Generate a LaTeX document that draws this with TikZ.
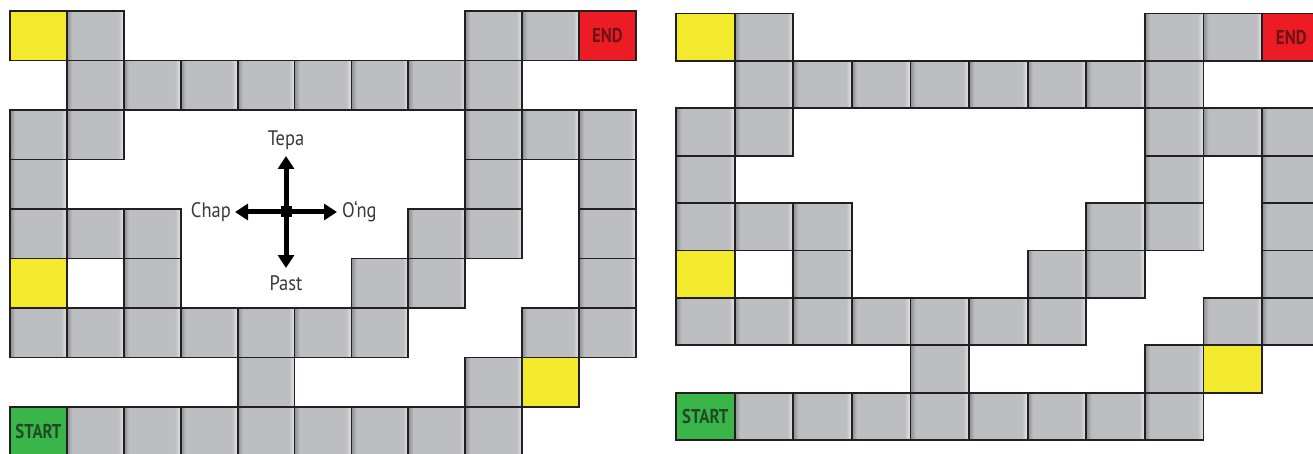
\documentclass[tikz,border=0pt]{standalone}
\usepackage{fontspec}
\setmainfont{PT Sans}
\newfontfamily\labfont{PT Sans}[FakeStretch=0.88]
\newfontfamily\cellfont{PT Sans Bold}[FakeStretch=0.84]
\usetikzlibrary{arrows.meta}
\definecolor{cellgray}{HTML}{BDBEC1}
\definecolor{celldark}{HTML}{8C8D90}
\definecolor{celllight}{HTML}{DDDEE0}
\definecolor{cellyellow}{HTML}{F3EA2E}
\definecolor{cellred}{HTML}{ED1C24}
\definecolor{cellgreen}{HTML}{3AB54A}
\definecolor{endtext}{HTML}{6B1416}
\definecolor{starttext}{HTML}{1F4A25}
\definecolor{edge}{HTML}{231F20}
\definecolor{labtext}{HTML}{3A3A3A}
\pgfdeclarehorizontalshading{cellshade}{100bp}{color(0bp)=(celldark); color(25bp)=(celldark); color(29.5bp)=(cellgray); color(70bp)=(cellgray); color(74bp)=(celllight); color(75bp)=(celllight); color(100bp)=(celllight)}
\tikzset{
  cellbase/.style={draw=edge, line width=1.8pt, inner sep=0pt, anchor=north west, outer sep=0pt},
  graycell/.style={cellbase, shading=cellshade},
  yellowcell/.style={cellbase, fill=cellyellow},
  whitecell/.style={cellbase, fill=white},
  redcell/.style={cellbase, fill=cellred, text=endtext, font=\cellfont\fontsize{20}{22}\selectfont},
  greencell/.style={cellbase, fill=cellgreen, text=starttext, font=\cellfont\fontsize{20}{22}\selectfont},
  lab/.style={text=labtext, font=\labfont\fontsize{21}{23}\selectfont, inner sep=0pt},
  compassarrow/.style={draw=black, line width=5pt, -{Triangle[width=16pt,length=13pt]}},
  hub/.style={fill=black, inner sep=0pt, minimum size=11pt}
}
\def\graylist{0/1,0/8,0/9,1/1,1/2,1/3,1/4,1/5,1/6,1/7,1/8,2/0,2/1,2/8,2/9,2/10,3/0,3/8,3/10,4/0,4/1,4/2,4/7,4/8,4/10,5/2,5/6,5/7,5/10,6/0,6/1,6/2,6/3,6/4,6/5,6/6,6/9,6/10,7/4,7/8,8/1,8/2,8/3,8/4,8/5,8/6,8/7,8/8}
\def\yellowlist{0/0,5/0,7/9}
\newcommand\boardgrid[5]{%
  \foreach \r/\c in \graylist {%
    \node[graycell, minimum width=#4pt, minimum height=#5pt] (#1-\r-\c) at ({#2+\c*#4},{#3+\r*#5}) {};}
  \foreach \r/\c in \yellowlist {%
    \node[yellowcell, minimum width=#4pt, minimum height=#5pt] (#1-\r-\c) at ({#2+\c*#4},{#3+\r*#5}) {};}
  \node[whitecell, minimum width=#4pt, minimum height=#5pt] (#1-5-1) at ({#2+1*#4},{#3+5*#5}) {};
  \node[greencell, minimum width=#4pt, minimum height=#5pt] (#1-start) at ({#2},{#3+8*#5}) {START};
  \node[redcell, minimum width=#4pt, minimum height=#5pt] (#1-end) at ({#2+10*#4},{#3}) {END};
}
\begin{document}
\begin{tikzpicture}[x=1pt, y=-1pt]
\useasboundingbox (0,0) rectangle (1313,454);
\fill[white] (0,0) rectangle (1313,454);
\clip (0,0) rectangle (1313,454);
\boardgrid{L}{10}{11}{56.9}{49.5}
\boardgrid{R}{676}{13.5}{58.6}{47.4}
% compass
\node[hub] (hub) at (286,212) {};
\node[lab] (tepa) at (286,140) {Tepa};
\node[lab] (past) at (286,283) {Past};
\node[lab, anchor=east] (chap) at (231,212) {Chap};
\node[lab, anchor=west] (ong) at (342,212) {O‘ng};
\coordinate (tN) at (286,156);
\coordinate (tS) at (286,268);
\coordinate (tW) at (235,212);
\coordinate (tE) at (337,212);
\draw[compassarrow] (hub.center) -- (tN);
\draw[compassarrow] (hub.center) -- (tS);
\draw[compassarrow] (hub.center) -- (tW);
\draw[compassarrow] (hub.center) -- (tE);
\end{tikzpicture}
\end{document}
